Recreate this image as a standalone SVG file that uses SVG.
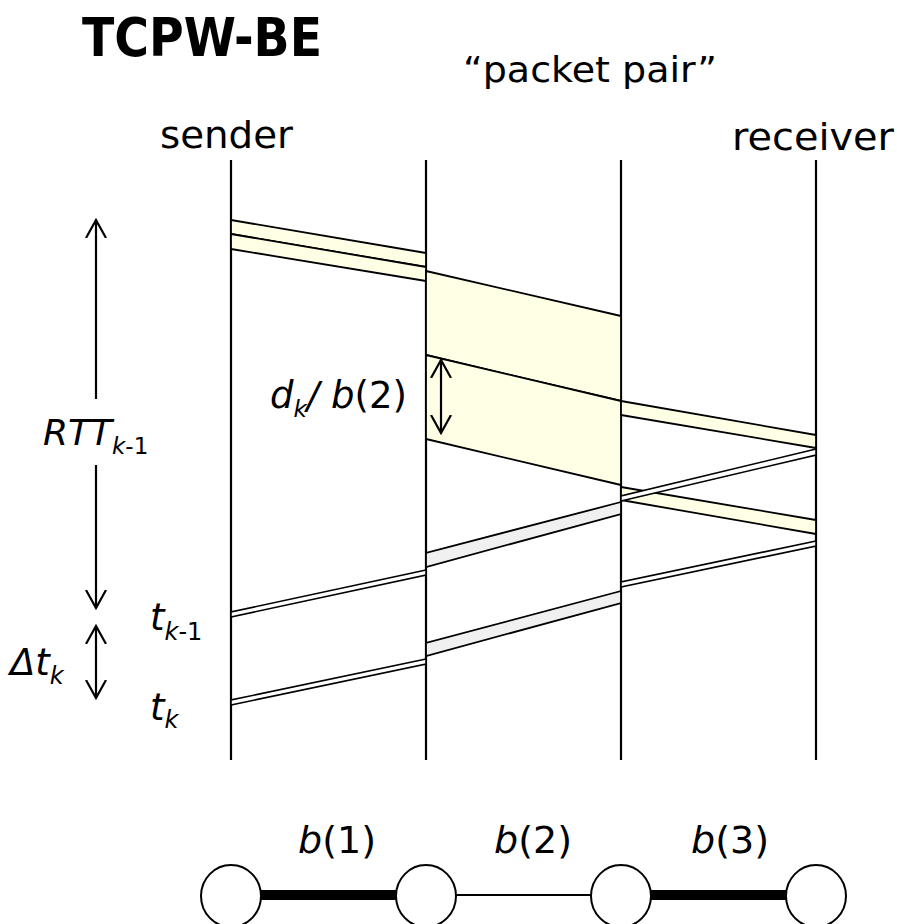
<svg xmlns="http://www.w3.org/2000/svg" width="897" height="924" viewBox="0 0 897 924">
<style>
text{font-family:"DejaVu Sans","Liberation Sans",sans-serif;fill:#000}
.life{stroke:#000;stroke-width:2.2;fill:none}
.pkt{fill:#FFFFE6;stroke:#000;stroke-width:1.8;stroke-linejoin:round}
.ackw{fill:#fff;stroke:#000;stroke-width:1.6}
.ackg{fill:#F0F0F0;stroke:#000;stroke-width:1.8}
.arr{stroke:#000;stroke-width:2.2;fill:none}
.it{font-style:italic}
.node{fill:#fff;stroke:#000;stroke-width:2}
</style>
<defs>
<marker id="ah" viewBox="0 -11 20 22" refX="18" refY="0" markerWidth="20" markerHeight="22" markerUnits="userSpaceOnUse" orient="auto-start-reverse">
<path d="M0,-10 L18,0 L0,10" fill="none" stroke="#000" stroke-width="2.2"/>
</marker>
</defs>

<g id="titles">
<text x="82" y="56" font-size="54" font-weight="bold" textLength="240" lengthAdjust="spacingAndGlyphs">TCPW-BE</text>
<text x="463" y="82" font-size="36" textLength="254" lengthAdjust="spacingAndGlyphs">“packet pair”</text>
<text x="160" y="148" font-size="38" textLength="133" lengthAdjust="spacingAndGlyphs">sender</text>
<text x="732" y="150" font-size="38" textLength="162" lengthAdjust="spacingAndGlyphs">receiver</text>
</g>

<g id="lifelines">
<line class="life" x1="231" y1="160" x2="231" y2="760"/>
<line class="life" x1="426" y1="160" x2="426" y2="760"/>
<line class="life" x1="621" y1="160" x2="621" y2="760"/>
<line class="life" x1="816" y1="160" x2="816" y2="760"/>
</g>

<g id="packets">
<polygon class="pkt" points="231,220 426,253 426,267 231,234"/>
<polygon class="pkt" points="231,234 426,267 426,281 231,249"/>
<polygon class="pkt" points="426,271 621,316 621,401 426,355"/>
<polygon class="pkt" points="426,355 621,401 621,485 426,439"/>
<polygon class="pkt" points="621,401 816,435 816,448 621,415"/>
<polygon class="pkt" points="621,487 816,520 816,534 621,500"/>
</g>

<g id="acks">
<polygon class="ackw" points="816,449 621,496 621,501 816,455"/>
<polygon class="ackg" points="621,502 426,553 426,567 621,514"/>
<polygon class="ackw" points="426,570 231,612 231,617 426,575"/>
<polygon class="ackw" points="816,541 621,582 621,587 816,546"/>
<polygon class="ackg" points="621,591 426,643 426,656 621,603"/>
<polygon class="ackw" points="426,659 231,700 231,705 426,664"/>
</g>

<g id="annotations">
<line class="arr" x1="96" y1="399" x2="96" y2="220" marker-end="url(#ah)"/>
<line class="arr" x1="96" y1="465" x2="96" y2="608" marker-end="url(#ah)"/>
<line class="arr" x1="96" y1="626" x2="96" y2="698" marker-start="url(#ah)" marker-end="url(#ah)"/>
<line class="arr" x1="441" y1="360" x2="441" y2="433" marker-start="url(#ah)" marker-end="url(#ah)"/>

<text x="43" y="445" font-size="36"><tspan class="it">RTT</tspan><tspan class="it" font-size="23" dy="9">k</tspan><tspan font-size="23">-1</tspan></text>
<text x="270" y="408" font-size="37"><tspan class="it">d</tspan><tspan class="it" font-size="23" dy="9">k</tspan><tspan class="it" dy="-9">/ b</tspan><tspan>(2)</tspan></text>
<text x="150" y="630" font-size="37"><tspan class="it">t</tspan><tspan class="it" font-size="24" dy="10">k</tspan><tspan font-size="24">-1</tspan></text>
<text x="150" y="720" font-size="37"><tspan class="it">t</tspan><tspan class="it" font-size="24" dy="8">k</tspan></text>
<text x="10" y="675" font-size="37"><tspan class="it">Δt</tspan><tspan class="it" font-size="24" dy="9">k</tspan></text>
</g>

<g id="links">
<line x1="261" y1="895" x2="396" y2="895" stroke="#000" stroke-width="10"/>
<line x1="456" y1="895" x2="591" y2="895" stroke="#000" stroke-width="2"/>
<line x1="651" y1="895" x2="786" y2="895" stroke="#000" stroke-width="10"/>
</g>

<g id="node-sender"><ellipse class="node" cx="231" cy="896" rx="30" ry="31"/></g>
<g id="node-router1"><ellipse class="node" cx="426" cy="896" rx="30" ry="31"/></g>
<g id="node-router2"><ellipse class="node" cx="621" cy="896" rx="30" ry="31"/></g>
<g id="node-receiver"><ellipse class="node" cx="816" cy="896" rx="30" ry="31"/></g>

<g id="link-labels">
<text x="298" y="853" font-size="38"><tspan class="it">b</tspan>(1)</text>
<text x="494" y="853" font-size="38"><tspan class="it">b</tspan>(2)</text>
<text x="691" y="853" font-size="38"><tspan class="it">b</tspan>(3)</text>
</g>
</svg>
